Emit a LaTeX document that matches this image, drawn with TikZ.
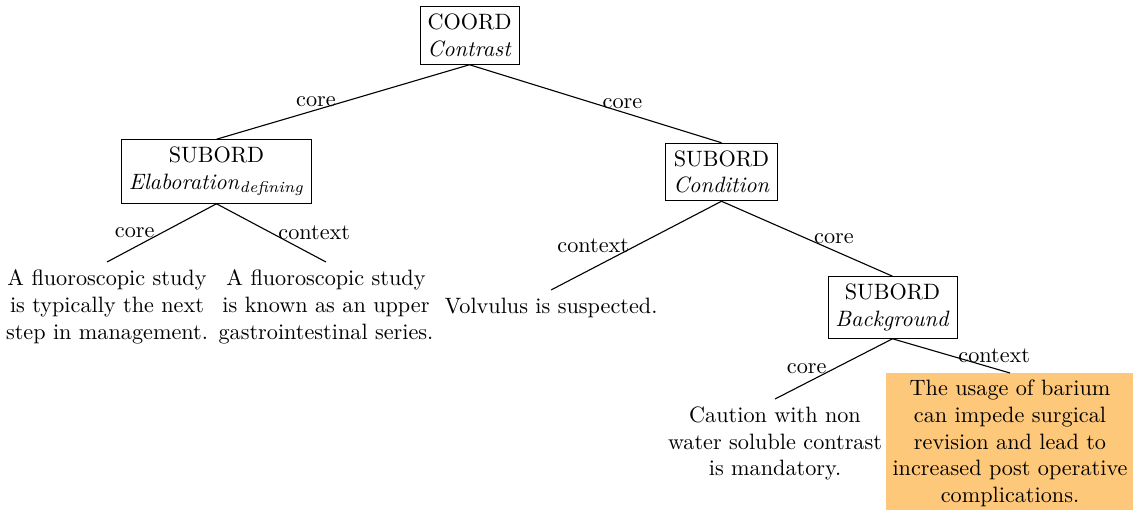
\documentclass[tikz,border=0pt]{standalone}
\definecolor{hl}{RGB}{254,200,122}
\begin{document}
\begin{tikzpicture}[x=0.45pt,y=-0.45pt,
  box/.style={draw, align=center, inner sep=3.33pt},
  leaf/.style={align=center, inner sep=3.33pt},
  lab/.style={inner sep=3pt},
  edge/.style={draw, line width=0.5pt}]
\useasboundingbox (0,0) rectangle (1133,510);
\node[box] (coord) at (469.5,35.5) {COORD\\\textit{Contrast}};
\node[box] (elab) at (216.5,171.5) {SUBORD\\\textit{Elaboration}\textsubscript{\textit{defining}}};
\node[box] (cond) at (721.5,172) {SUBORD\\\textit{Condition}};
\node[box] (back) at (892.5,307.5) {SUBORD\\\textit{Background}};
\node[leaf, anchor=north] (l1) at (107,262) {A fluoroscopic study\\is typically the next\\step in management.};
\node[leaf, anchor=north] (l2) at (326,262) {A fluoroscopic study\\is known as an upper\\gastrointestinal series.};
\node[leaf, anchor=north] (l3) at (551,290) {Volvulus is suspected.};
\node[leaf, anchor=north] (l4) at (775,399) {Caution with non\\water soluble contrast\\is mandatory.};
\node[leaf, anchor=north, fill=hl, minimum width=110.7pt, inner sep=3pt] (l5) at (1010,373) {The usage of barium\\can impede surgical\\revision and lead to\\increased post operative\\complications.};
\draw[edge] (coord.south) -- node[lab, anchor=east] {core} (elab.north);
\draw[edge] (coord.south) -- node[lab, anchor=west] {core} (cond.north);
\draw[edge] (elab.south) -- node[lab, anchor=east] {core} (l1.north);
\draw[edge] (elab.south) -- node[lab, anchor=west] {context} (l2.north);
\draw[edge] (cond.south) -- node[lab, anchor=east] {context} (l3.north);
\draw[edge] (cond.south) -- node[lab, anchor=west] {core} (back.north);
\draw[edge] (back.south) -- node[lab, anchor=east] {core} (l4.north);
\draw[edge] (back.south) -- node[lab, anchor=west] {context} (l5.north);
\end{tikzpicture}
\end{document}
